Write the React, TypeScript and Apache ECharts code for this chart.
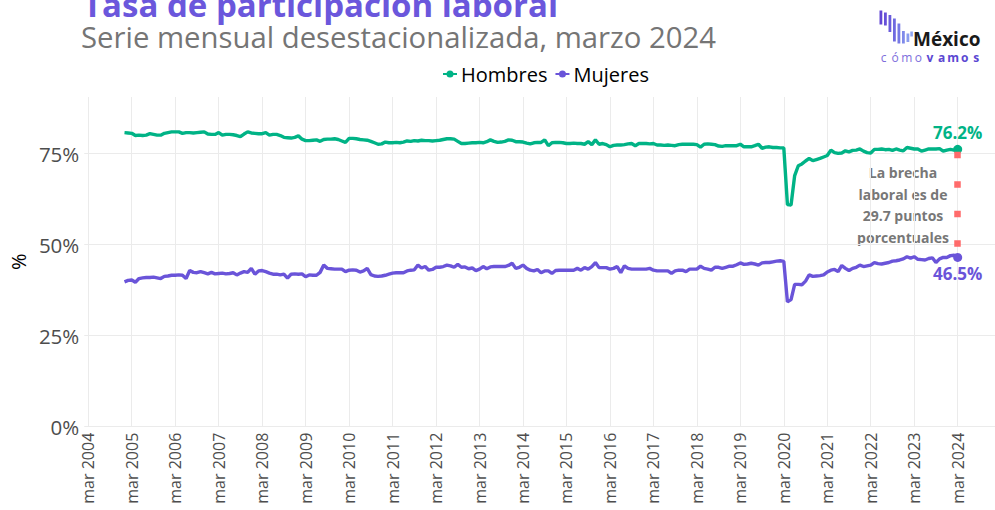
import React, { useEffect, useRef } from "react";
import * as echarts from "echarts";

// Months counted from mar 2004 (= 0); the series starts in Jan 2005.
const START_INDEX = 10;

const hombres = [
  80.8, 80.7, 80.6, 80.0, 80.1, 80.0, 80.1, 80.5, 80.3, 80.1, 80.1, 80.6,
  80.8, 81.0, 81.0, 81.0, 80.6, 80.8, 80.8, 80.7, 80.8, 80.9, 81.0, 80.4,
  80.3, 80.3, 80.8, 80.1, 80.3, 80.3, 80.2, 80.0, 79.7, 80.4, 81.0, 80.7,
  80.6, 80.5, 80.5, 80.8, 80.1, 80.3, 80.3, 80.0, 79.5, 79.4, 79.3, 79.5,
  79.9, 79.0, 78.6, 78.6, 78.7, 78.8, 78.4, 78.9, 79.0, 79.0, 79.1, 78.9,
  78.5, 78.1, 79.2, 79.2, 79.1, 78.9, 78.8, 78.7, 78.4, 78.0, 77.6, 77.7,
  78.2, 78.0, 78.0, 78.1, 78.0, 78.2, 78.5, 78.4, 78.6, 78.5, 78.7, 78.6,
  78.6, 78.5, 78.6, 78.7, 78.9, 79.1, 79.1, 79.0, 78.4, 77.8, 77.8, 77.9,
  78.0, 78.0, 78.1, 78.0, 78.3, 78.8, 78.4, 78.1, 78.2, 78.4, 78.8, 78.7,
  78.3, 78.3, 78.2, 77.9, 77.7, 78.0, 78.1, 78.1, 78.8, 77.2, 78.0, 78.1,
  78.1, 78.0, 77.8, 77.8, 77.9, 77.8, 77.8, 77.6, 78.3, 77.5, 78.8, 77.6,
  77.8, 77.5, 76.9, 77.3, 77.4, 77.4, 77.5, 77.7, 77.8, 77.2, 77.8, 77.8,
  77.8, 77.7, 77.8, 77.4, 77.4, 77.3, 77.4, 77.3, 77.2, 77.5, 77.6, 77.6,
  77.6, 77.6, 77.5, 76.8, 77.6, 77.7, 77.6, 77.5, 77.1, 77.0, 77.2, 77.2,
  77.2, 77.2, 77.6, 76.9, 76.9, 76.9, 77.2, 77.6, 76.5, 76.8, 76.9, 76.7,
  76.7, 76.6, 76.6, 61.0, 60.9, 69.0, 71.7, 72.2, 73.0, 73.7, 73.1, 73.4,
  73.7, 74.1, 74.5, 76.0, 75.3, 75.1, 75.2, 75.8, 75.5, 75.9, 76.0, 76.3,
  75.7, 75.3, 75.2, 76.2, 76.2, 76.3, 76.1, 76.2, 75.9, 76.3, 76.0, 75.8,
  76.7, 76.5, 76.3, 76.3, 75.7, 76.0, 76.3, 76.3, 76.3, 76.4, 75.7, 76.0,
  76.2, 76.0, 76.2,
];

const mujeres = [
  39.8, 40.2, 40.3, 39.7, 40.7, 40.9, 41.0, 41.0, 41.1, 40.9, 40.7, 41.3,
  41.4, 41.6, 41.6, 41.7, 41.6, 40.7, 42.9, 42.4, 42.3, 42.6, 42.3, 42.0,
  42.4, 42.0, 42.1, 42.2, 42.0, 42.1, 42.3, 41.7, 42.2, 42.6, 42.4, 43.5,
  41.9, 42.8, 42.9, 42.6, 42.2, 41.9, 41.9, 41.7, 41.9, 40.8, 41.9, 42.0,
  41.9, 42.0, 41.2, 41.7, 41.6, 41.6, 42.4, 44.4, 43.5, 43.4, 43.3, 43.3,
  43.3, 42.6, 43.0, 43.1, 43.0, 42.5, 42.8, 43.5, 41.8, 41.4, 41.3, 41.4,
  41.6, 41.9, 42.2, 42.3, 42.3, 42.3, 42.8, 43.0, 43.1, 44.4, 43.6, 44.0,
  43.0, 43.2, 43.8, 43.8, 44.0, 44.4, 44.2, 43.8, 44.6, 43.8, 43.9, 43.4,
  43.6, 42.9, 43.3, 44.0, 43.4, 43.9, 44.0, 44.0, 44.0, 44.0, 44.3, 44.9,
  43.5, 43.8, 44.4, 43.5, 43.0, 42.8, 43.2, 42.3, 42.8, 42.8, 42.1, 42.9,
  43.0, 43.0, 43.0, 43.0, 43.0, 43.5, 43.0, 43.7, 43.3, 44.0, 45.1, 43.7,
  43.7, 43.7, 43.3, 43.5, 44.0, 42.3, 44.2, 43.5, 43.3, 43.3, 43.3, 43.3,
  43.3, 43.5, 43.0, 42.8, 42.8, 42.8, 42.8, 42.1, 42.8, 43.0, 43.0, 42.6,
  43.3, 43.3, 43.3, 44.1, 43.5, 43.3, 43.0, 43.8, 43.8, 43.5, 43.8, 44.1,
  44.1, 44.5, 45.0, 44.6, 44.7, 44.9, 44.7, 44.4, 45.0, 45.1, 45.1, 45.3,
  45.5, 45.6, 45.4, 34.3, 34.9, 39.1, 39.1, 39.0, 40.0, 41.7, 41.3, 41.4,
  41.5, 41.7, 42.5, 43.0, 43.2, 42.6, 44.3, 43.5, 42.9, 43.5, 43.8, 44.4,
  44.0, 44.2, 44.4, 45.1, 44.8, 44.7, 44.9, 45.1, 45.5, 45.6, 45.8, 46.1,
  46.7, 46.3, 46.7, 46.0, 45.9, 45.8, 46.2, 46.4, 45.1, 46.1, 46.5, 46.5,
  47.0, 47.1, 46.5,
];

const seriesNames = ["Hombres", "Mujeres"];
const xTickValues = [0, 12, 24, 36, 48, 60, 72, 84, 96, 108, 120, 132, 144, 156, 168, 180, 192, 204, 216, 228, 240];
const xTickLabels = [
  "mar 2004", "mar 2005", "mar 2006", "mar 2007", "mar 2008", "mar 2009", "mar 2010",
  "mar 2011", "mar 2012", "mar 2013", "mar 2014", "mar 2015", "mar 2016", "mar 2017",
  "mar 2018", "mar 2019", "mar 2020", "mar 2021", "mar 2022", "mar 2023", "mar 2024",
];
const yTickValues = [0, 25, 50, 75];
const yTickLabels = ["0%", "25%", "50%", "75%"];
const lastLabels = ["76.2%", "46.5%"];
const gapText = ["La brecha", "laboral es de", "29.7 puntos", "porcentuales"];
const titleText = "Tasa de participación laboral";
const subtitleText = "Serie mensual desestacionalizada, marzo 2024";
const logoTop = "México";
const logoBottom = ["c", "ó", "m", "o", "v", "a", "m", "o", "s"];

const GREEN = "#00B386";
const PURPLE = "#6A54D9";
const FONT = "Open Sans";

export default function App() {
  const ref = useRef<HTMLDivElement>(null);

  useEffect(() => {
    if (!ref.current) return;
    const chart = echarts.init(ref.current, null, { renderer: "svg" });

    const hData = hombres.map((v, i) => [START_INDEX + i, v]);
    const mData = mujeres.map((v, i) => [START_INDEX + i, v]);
    const hLast = hData[hData.length - 1];
    const mLast = mData[mData.length - 1];

    const bars = [
      [879.5, 10.5, 24.5],
      [884, 12.5, 25.5],
      [888.5, 15, 32],
      [893, 18.5, 41.5],
      [897.5, 23.5, 43.5],
      [902, 31, 43.5],
      [906.5, 33.5, 42],
    ];
    const barColors = ["#6246D4", "#6650D8", "#6A5CDC", "#6F6AE0", "#7679E5", "#7F8AEA", "#8A9CEF"];

    const logoChildren: any[] = bars.map((b, i) => ({
      type: "rect",
      shape: { x: b[0], y: b[1], width: 2.8, height: b[2] - b[1] },
      style: { fill: barColors[i] },
    }));
    logoChildren.push({
      type: "rect",
      shape: { x: 910.3, y: 31.5, width: 2.6, height: 5 },
      style: { fill: "#8FA4F1" },
    });
    logoChildren.push({
      type: "text",
      x: 913,
      y: 38.5,
      style: {
        text: logoTop,
        fill: "#1A1A1A",
        fontSize: 19,
        lineHeight: 17,
        fontWeight: "bold",
        fontFamily: FONT,
        align: "left",
        verticalAlign: "middle",
      },
    });
    logoBottom.forEach((ch, i) => {
      logoChildren.push({
        type: "text",
        x: 883.5 + i * 11.6,
        y: 57.5,
        style: {
          text: ch,
          fill: i < 4 ? "#7D6EDC" : "#5B47D2",
          fontSize: 12,
          lineHeight: 11,
          fontWeight: i < 4 ? "normal" : "bold",
          fontFamily: FONT,
          align: "center",
          verticalAlign: "middle",
        },
      });
    });

    const option: any = {
      animation: false,
      textStyle: { fontFamily: FONT },
      grid: { left: 82, right: 0, top: 97, bottom: 83.3, containLabel: false },
      legend: {
        data: seriesNames,
        left: 438,
        top: 59,
        itemWidth: 14,
        itemHeight: 8,
        itemGap: 8,
        icon: "path://M0,3H14V5H0Z M7,0.5A3.5,3.5 0 1 1 7,7.5A3.5,3.5 0 1 1 7,0.5Z",
        textStyle: { fontSize: 20, color: "#000000", fontFamily: FONT, padding: [0, 0, 0, -1] },
        selectedMode: false,
      },
      xAxis: {
        type: "value",
        min: -1.1,
        max: 250.3,
        axisLine: { show: false },
        axisTick: { show: false, customValues: xTickValues },
        axisLabel: {
          customValues: xTickValues,
          rotate: 90,
          margin: 6,
          fontSize: 16,
          color: "#4D4D4D",
          fontFamily: FONT,
          formatter: (v: number) => xTickLabels[Math.round(v / 12)] ?? "",
        },
        splitLine: { show: true, lineStyle: { color: "#EBEBEB", width: 1 } },
      },
      yAxis: {
        type: "value",
        min: 0,
        max: 90.58,
        name: "%",
        nameLocation: "middle",
        nameGap: 55,
        nameTextStyle: { fontSize: 20, color: "#000000", fontFamily: FONT },
        axisLine: { show: false },
        axisTick: { show: false, customValues: yTickValues },
        axisLabel: {
          customValues: yTickValues,
          margin: 5,
          fontSize: 20.5,
          color: "#4D4D4D",
          fontFamily: FONT,
          formatter: (v: number) => yTickLabels[yTickValues.indexOf(Math.round(v))] ?? "",
        },
        splitLine: { show: true, lineStyle: { color: "#EBEBEB", width: 1 } },
      },
      series: [
        {
          name: seriesNames[0],
          type: "line",
          data: hData,
          showSymbol: false,
          symbol: "circle",
          lineStyle: { width: 3.4, color: GREEN },
          itemStyle: { color: GREEN },
          z: 3,
        },
        {
          name: seriesNames[1],
          type: "line",
          data: mData,
          showSymbol: false,
          symbol: "circle",
          lineStyle: { width: 3.4, color: PURPLE },
          itemStyle: { color: PURPLE },
          z: 3,
        },
        {
          name: "gap",
          type: "scatter",
          data: [],
          silent: true,
          markLine: {
            silent: true,
            symbol: ["none", "none"],
            label: { show: false },
            lineStyle: {
              type: [6.5, 23],
              dashOffset: 26.5,
              width: 6.5,
              color: "#FF6B6B",
              cap: "butt",
            },
            data: [[{ coord: hLast }, { coord: mLast }]],
          },
          z: 2,
        },
        {
          name: "lastH",
          type: "scatter",
          data: [hLast],
          symbolSize: 9,
          itemStyle: { color: GREEN, opacity: 1 },
          label: {
            show: true,
            position: "top",
            distance: 4,
            formatter: lastLabels[0],
            fontSize: 17,
            fontWeight: "bold",
            color: GREEN,
            fontFamily: FONT,
          },
          z: 4,
        },
        {
          name: "lastM",
          type: "scatter",
          data: [mLast],
          symbolSize: 9,
          itemStyle: { color: PURPLE, opacity: 1 },
          label: {
            show: true,
            position: "bottom",
            distance: 3,
            formatter: lastLabels[1],
            fontSize: 17,
            fontWeight: "bold",
            color: PURPLE,
            fontFamily: FONT,
          },
          z: 4,
        },
      ],
      graphic: [
        {
          type: "text",
          x: 83,
          y: 4,
          style: {
            text: titleText,
            fill: "#6B57DC",
            fontSize: 33,
            lineHeight: 30,
            fontWeight: "bold",
            fontFamily: FONT,
            align: "left",
            verticalAlign: "middle",
          },
        },
        {
          type: "text",
          x: 81,
          y: 37,
          style: {
            text: subtitleText,
            fill: "#757575",
            fontSize: 29.3,
            lineHeight: 27,
            fontFamily: FONT,
            align: "left",
            verticalAlign: "middle",
          },
        },
        {
          type: "text",
          x: 903,
          y: 205,
          style: {
            text: gapText.join("\n"),
            fill: "#777777",
            fontSize: 14,
            fontWeight: "bold",
            fontFamily: FONT,
            lineHeight: 21.5,
            align: "center",
            verticalAlign: "middle",
          },
        },
        { type: "group", children: logoChildren },
      ],
    };

    chart.setOption(option);
    return () => chart.dispose();
  }, []);

  return (
    <div
      ref={ref}
      style={{ position: "absolute", left: 0, top: 0, width: 995, height: 510 }}
    />
  );
}
